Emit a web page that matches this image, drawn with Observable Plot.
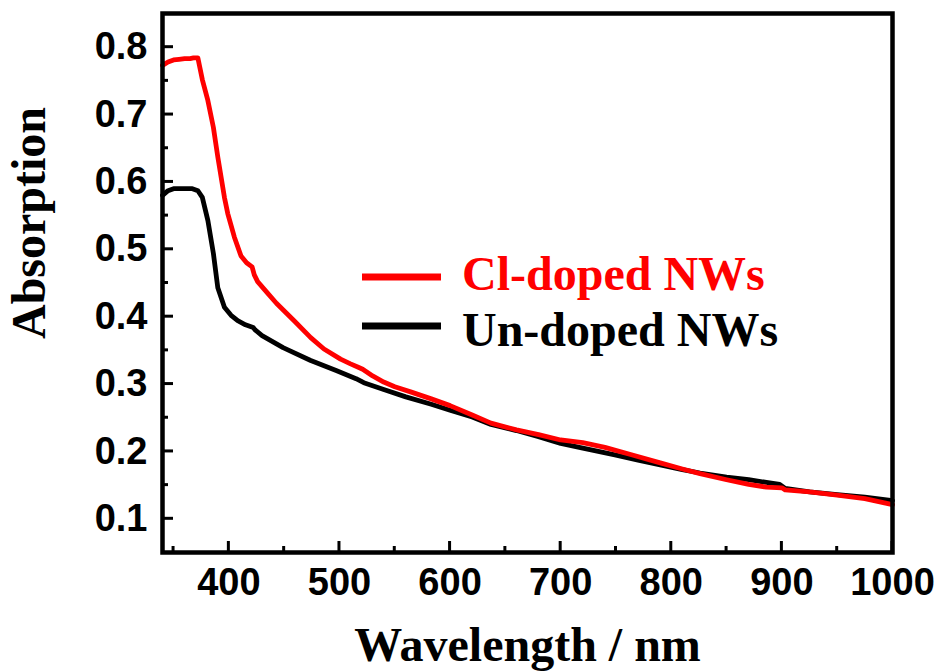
<!DOCTYPE html>
<html>
<head>
<meta charset="utf-8">
<script src="https://cdn.jsdelivr.net/npm/d3@7"></script>
<script src="https://cdn.jsdelivr.net/npm/@observablehq/plot@0.6"></script>
<style>
  html, body { margin: 0; padding: 0; background: #fff; }
  #wrap { position: relative; width: 940px; height: 671px; }
  #overlay { position: absolute; left: 0; top: 0; pointer-events: none; }
</style>
</head>
<body>
<div id="wrap"></div>
<script>
// ---- data ----
const clWavelength = [340,345,350,355,360,365,368,372,376,381,386,390,396,399,405,411,416,421,423,426,435,443,459,474,486,501,510,517,521,530,540,550,565,583,600,620,637,660,680,700,720,740,764,790,810,826,850,870,886,900,903,925,950,975,1000];
const clAbsorption = [0.773,0.778,0.781,0.782,0.783,0.783,0.784,0.784,0.752,0.721,0.681,0.637,0.577,0.553,0.518,0.490,0.480,0.474,0.462,0.452,0.435,0.420,0.394,0.369,0.352,0.337,0.330,0.325,0.322,0.312,0.303,0.296,0.288,0.278,0.268,0.254,0.242,0.232,0.225,0.217,0.213,0.206,0.195,0.183,0.174,0.167,0.158,0.151,0.147,0.146,0.143,0.140,0.135,0.130,0.121];

const unWavelength = [340,345,350,360,367,372,376,381,386,390,396,402,408,415,422,424,430,449,474,497,515,522,540,560,583,600,620,637,660,680,700,720,749,770,790,810,826,850,870,886,898,903,925,950,975,1000];
const unAbsorption = [0.580,0.587,0.590,0.590,0.590,0.587,0.577,0.543,0.494,0.443,0.414,0.402,0.394,0.388,0.384,0.380,0.372,0.354,0.335,0.320,0.308,0.302,0.292,0.281,0.270,0.261,0.251,0.240,0.231,0.222,0.212,0.205,0.195,0.187,0.180,0.173,0.168,0.162,0.158,0.154,0.151,0.145,0.140,0.136,0.132,0.127];

const seriesNames = ["Cl-doped NWs", "Un-doped NWs"];
const seriesColors = ["#ff0000", "#000000"];

const xDomain = [340, 1000];
const yDomain = [0.05, 0.85];
const xTicks = [400, 500, 600, 700, 800, 900, 1000];
const xMinorTicks = [350, 450, 550, 650, 750, 850, 950];
const yTicks = [0.1, 0.2, 0.3, 0.4, 0.5, 0.6, 0.7, 0.8];
const yMinorTicks = [0.15, 0.25, 0.35, 0.45, 0.55, 0.65, 0.75];

const xLabel = "Wavelength / nm";
const yLabel = "Absorption";

// ---- build table ----
const unData = unWavelength.map((w, i) => ({w, a: unAbsorption[i], s: seriesNames[1]}));
const clData = clWavelength.map((w, i) => ({w, a: clAbsorption[i], s: seriesNames[0]}));

const tickFont = "Liberation Sans, Arial, sans-serif";
const labelFont = "Liberation Serif, Times New Roman, serif";

const W = 940, H = 671, mL = 162, mR = 48, mT = 13, mB = 119;

const chart = Plot.plot({
  width: W,
  height: H,
  marginLeft: mL,
  marginRight: mR,
  marginTop: mT,
  marginBottom: mB,
  style: {background: "#fff", color: "#000", fontFamily: tickFont},
  x: {domain: xDomain},
  y: {domain: yDomain},
  marks: [
    Plot.line(unData, {x: "w", y: "a", stroke: seriesColors[1], strokeWidth: 4.8, strokeLinejoin: "round"}),
    Plot.line(clData, {x: "w", y: "a", stroke: seriesColors[0], strokeWidth: 4.8, strokeLinejoin: "round"}),
    Plot.frame({stroke: "#000", strokeWidth: 4.5}),
    Plot.axisX(xTicks, {anchor: "bottom", tickSize: 0, tickPadding: 16, fontSize: 38, fontWeight: "bold", fontFamily: tickFont, tickFormat: d => String(d), label: null}),
    Plot.axisY(yTicks, {anchor: "left", tickSize: 0, tickPadding: 15, fontSize: 38, fontWeight: "bold", fontFamily: tickFont, tickFormat: d => d.toFixed(1), label: null}),
    Plot.text([xLabel], {frameAnchor: "bottom", dy: 108, text: d => d, fontSize: 48, fontWeight: "bold", fontFamily: labelFont, lineAnchor: "bottom", textAnchor: "middle"}),
    Plot.text([yLabel], {frameAnchor: "left", dx: -152, dy: -60, text: d => d, rotate: -90, fontSize: 48, fontWeight: "bold", fontFamily: labelFont, lineAnchor: "top", textAnchor: "middle"})
  ]
});

const wrap = document.getElementById("wrap");
wrap.appendChild(chart);

// ---- overlay: inward ticks (positioned with the chart's own scales) and legend ----
const ns = "http://www.w3.org/2000/svg";
const ov = document.createElementNS(ns, "svg");
ov.setAttribute("id", "overlay");
ov.setAttribute("width", W);
ov.setAttribute("height", H);
function addLine(x1, y1, x2, y2, color, w) {
  const ln = document.createElementNS(ns, "line");
  ln.setAttribute("x1", x1); ln.setAttribute("y1", y1);
  ln.setAttribute("x2", x2); ln.setAttribute("y2", y2);
  ln.setAttribute("stroke", color); ln.setAttribute("stroke-width", w);
  ov.appendChild(ln);
}
const sx = chart.scale("x"), sy = chart.scale("y");
const bottom = sy.apply(yDomain[0]);
const left = sx.apply(xDomain[0]);
xTicks.forEach(v => addLine(sx.apply(v), bottom, sx.apply(v), bottom - 11, "#000", 3));
xMinorTicks.forEach(v => addLine(sx.apply(v), bottom, sx.apply(v), bottom - 6, "#000", 3));
yTicks.forEach(v => addLine(left, sy.apply(v), left + 11, sy.apply(v), "#000", 3));
yMinorTicks.forEach(v => addLine(left, sy.apply(v), left + 6, sy.apply(v), "#000", 3));

const legRows = [{y: 277, base: 290}, {y: 326, base: 346}];
seriesNames.forEach((name, i) => {
  addLine(362, legRows[i].y, 441, legRows[i].y, seriesColors[i], 7);
  const t = document.createElementNS(ns, "text");
  t.setAttribute("x", 462); t.setAttribute("y", legRows[i].base);
  t.setAttribute("fill", seriesColors[i]);
  t.setAttribute("font-family", labelFont);
  t.setAttribute("font-weight", "bold");
  t.setAttribute("font-size", 48);
  t.textContent = name;
  ov.appendChild(t);
});
wrap.appendChild(ov);
</script>
</body>
</html>
